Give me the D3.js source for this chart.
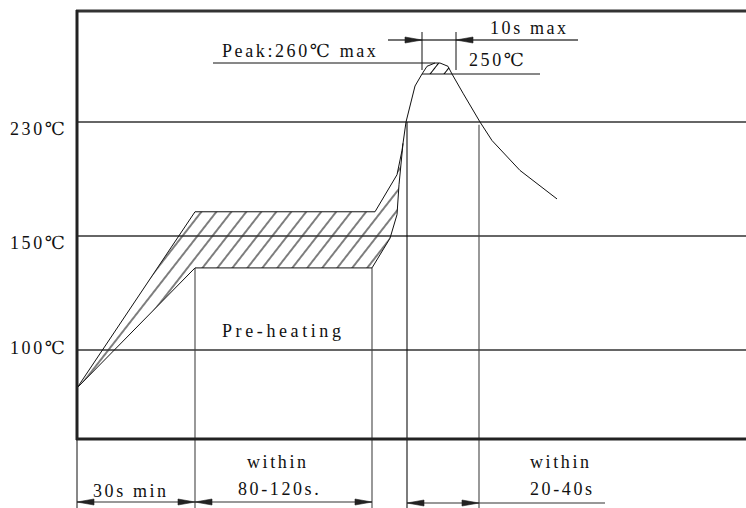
<!DOCTYPE html>
<html><head><meta charset="utf-8">
<script src="https://cdn.jsdelivr.net/npm/d3@7"></script>
<style>
body{margin:0;background:#fff}
svg{display:block}
text{font-family:"Liberation Serif","DejaVu Serif","Times New Roman",serif;font-size:18px;fill:#111;letter-spacing:2.6px}
</style></head><body>
<script>
// ---------------- data ----------------
const tempTicks = [100, 150, 230];
const tempTickLabels = ["100℃", "150℃", "230℃"];
// profile: upper edge of preheat band -> ramp -> peak -> cooling (time s, temp ℃)
const profileTime = [0, 59, 149, 160, 162.5, 164.5, 169, 172.5, 175, 179, 181.5, 185.5, 187.5, 193, 201.5, 207.5, 221.5, 240];
const profileTemp = [25, 167, 167, 193, 210, 230, 245, 250, 257, 260, 260, 257, 250, 242, 230, 217, 196, 176];
// lower edge of preheat band
const lowerTime = [0, 59, 147.5, 156.5, 160, 161, 163];
const lowerTemp = [25, 136, 136, 149, 165, 186, 215];
// phase boundaries (time s)
const phaseTimes = [0, 59, 147.5, 165, 201];
const phaseTopTemps = [25, 136, 136, 230, 228];
// bottom dimension labels
const spanLabels = [["30s min"], ["within", "80-120s."], ["within", "20-40s"]];
const peakLabel = "Peak:260℃ max";
const peakTemp = 260;
const limitLabel = "250℃";
const limitTemp = 250;
const peakWindowTimes = [172.5, 189.5];
const peakWindowLabel = "10s max";
const preheatLabel = "Pre-heating";

// ---------------- layout ----------------
const W = 746, H = 508;
const svg = d3.select("body").append("svg").attr("width", W).attr("height", H);
const x = d3.scaleLinear().domain([0, 335]).range([77, 747]);
const y = d3.scaleLinear().domain([25, 100, 150, 230, 250, 260]).range([388, 350, 236, 122, 74, 63]);
const frameTop = 11, frameBottom = 439, frameLeft = 77;
const ink = "#111";

const profile = profileTime.map((t, i) => [t, profileTemp[i]]);
const lower = lowerTime.map((t, i) => [t, lowerTemp[i]]);
const line = d3.line().x(d => x(d[0])).y(d => y(d[1]));

// hatch pattern
const defs = svg.append("defs");
function hatch(id, w, shift) {
  const p = defs.append("pattern").attr("id", id).attr("patternUnits", "userSpaceOnUse")
    .attr("width", w).attr("height", 40).attr("patternTransform", `rotate(38) translate(${shift},0)`);
  p.append("line").attr("x1", w / 2).attr("x2", w / 2).attr("y1", -1).attr("y2", 41)
    .attr("stroke", "#000").attr("stroke-width", 1);
}
hatch("hatchA", 11.8, 0);
hatch("hatchB", 11, 5);

// band polygon
const bandPoly = profile.filter(d => d[0] <= 162.5).concat(lower.slice().reverse());
svg.append("path").attr("d", line(bandPoly) + "Z").attr("fill", "url(#hatchA)").attr("stroke", "none");
// peak cap
const capPoly = profile.filter(d => d[1] >= limitTemp);
svg.append("path").attr("d", line(capPoly) + "Z").attr("fill", "url(#hatchB)").attr("stroke", "none");

// grid lines
svg.selectAll("line.grid").data(tempTicks).join("line").attr("class", "grid")
  .attr("x1", frameLeft).attr("x2", W).attr("y1", d => y(d)).attr("y2", d => y(d))
  .attr("stroke", "#333").attr("stroke-width", 1.3);
const labelDy = {100: 4, 150: 13, 230: 13};
svg.selectAll("text.tick").data(tempTicks).join("text").attr("class", "tick")
  .attr("x", 10).attr("y", d => y(d) + labelDy[d]).text((d, i) => tempTickLabels[i]);

// phase verticals
phaseTimes.forEach((t, i) => {
  if (i === 0) {
    svg.append("line").attr("x1", x(t)).attr("x2", x(t)).attr("y1", frameBottom).attr("y2", H)
      .attr("stroke", ink).attr("stroke-width", 1);
  } else {
    svg.append("line").attr("x1", x(t)).attr("x2", x(t)).attr("y1", y(phaseTopTemps[i])).attr("y2", H)
      .attr("stroke", i === 3 ? ink : "#444").attr("stroke-width", 1.1);
  }
});

// profile lines
svg.append("path").attr("d", line(profile)).attr("fill", "none").attr("stroke", ink).attr("stroke-width", 1);
svg.append("path").attr("d", line(lower)).attr("fill", "none").attr("stroke", ink).attr("stroke-width", 1);

// frame
svg.append("line").attr("x1", frameLeft - 1).attr("x2", W).attr("y1", frameTop).attr("y2", frameTop).attr("stroke", "#333").attr("stroke-width", 3);
svg.append("line").attr("x1", frameLeft - 1).attr("x2", W).attr("y1", frameBottom).attr("y2", frameBottom).attr("stroke", "#222").attr("stroke-width", 3);
svg.append("line").attr("x1", frameLeft).attr("x2", frameLeft).attr("y1", frameTop - 1).attr("y2", frameBottom + 1).attr("stroke", "#222").attr("stroke-width", 3);

// arrowhead
function arrow(tipX, yy, dir) {
  const L = 17, h = 3;
  svg.append("path").attr("d", `M${tipX},${yy} L${tipX - dir * L},${yy - h} L${tipX - dir * L},${yy + h} Z`)
    .attr("fill", "#222").attr("stroke", "#222").attr("stroke-width", 0.6);
}

// peak annotations
svg.append("line").attr("x1", 213).attr("x2", x(179)).attr("y1", y(peakTemp)).attr("y2", y(peakTemp)).attr("stroke", ink);
svg.append("text").attr("x", 222).attr("y", 57).text(peakLabel);
svg.append("line").attr("x1", x(peakWindowTimes[0])).attr("x2", 540).attr("y1", y(limitTemp)).attr("y2", y(limitTemp)).attr("stroke", ink);
svg.append("text").attr("x", 469).attr("y", 66).text(limitLabel);
const wy = 40;
svg.append("line").attr("x1", 388).attr("x2", 578).attr("y1", wy).attr("y2", wy).attr("stroke", "#444").attr("stroke-width", 1.3);
peakWindowTimes.forEach((t, i) => {
  svg.append("line").attr("x1", x(t)).attr("x2", x(t)).attr("y1", 32).attr("y2", 70).attr("stroke", ink);
  arrow(x(t), wy, i === 0 ? 1 : -1);
});
svg.append("text").attr("x", 490).attr("y", 34).text(peakWindowLabel);

// preheating label
svg.append("text").attr("x", 222).attr("y", 337).style("letter-spacing", "3.6px").text(preheatLabel);

// bottom dimensions
const spans = [[phaseTimes[0], phaseTimes[1]], [phaseTimes[1], phaseTimes[2]], [phaseTimes[3], phaseTimes[4]]];
const dimY = [502, 502, 503];
spans.forEach((s, i) => {
  const x0 = x(s[0]), x1 = x(s[1]);
  svg.append("line").attr("x1", x0).attr("x2", i === 2 ? 605 : x1).attr("y1", dimY[i]).attr("y2", dimY[i]).attr("stroke", "#333").attr("stroke-width", 1.2);
  arrow(x0, dimY[i], -1);
  arrow(x1, dimY[i], 1);
});
// texts
svg.append("text").attr("x", 93).attr("y", 497).text(spanLabels[0][0]);
svg.append("text").attr("x", 247).attr("y", 468).text(spanLabels[1][0]);
svg.append("text").attr("x", 238).attr("y", 495).text(spanLabels[1][1]);
svg.append("text").attr("x", 530).attr("y", 468).text(spanLabels[2][0]);
svg.append("text").attr("x", 530).attr("y", 495).text(spanLabels[2][1]);
</script>
</body></html>
